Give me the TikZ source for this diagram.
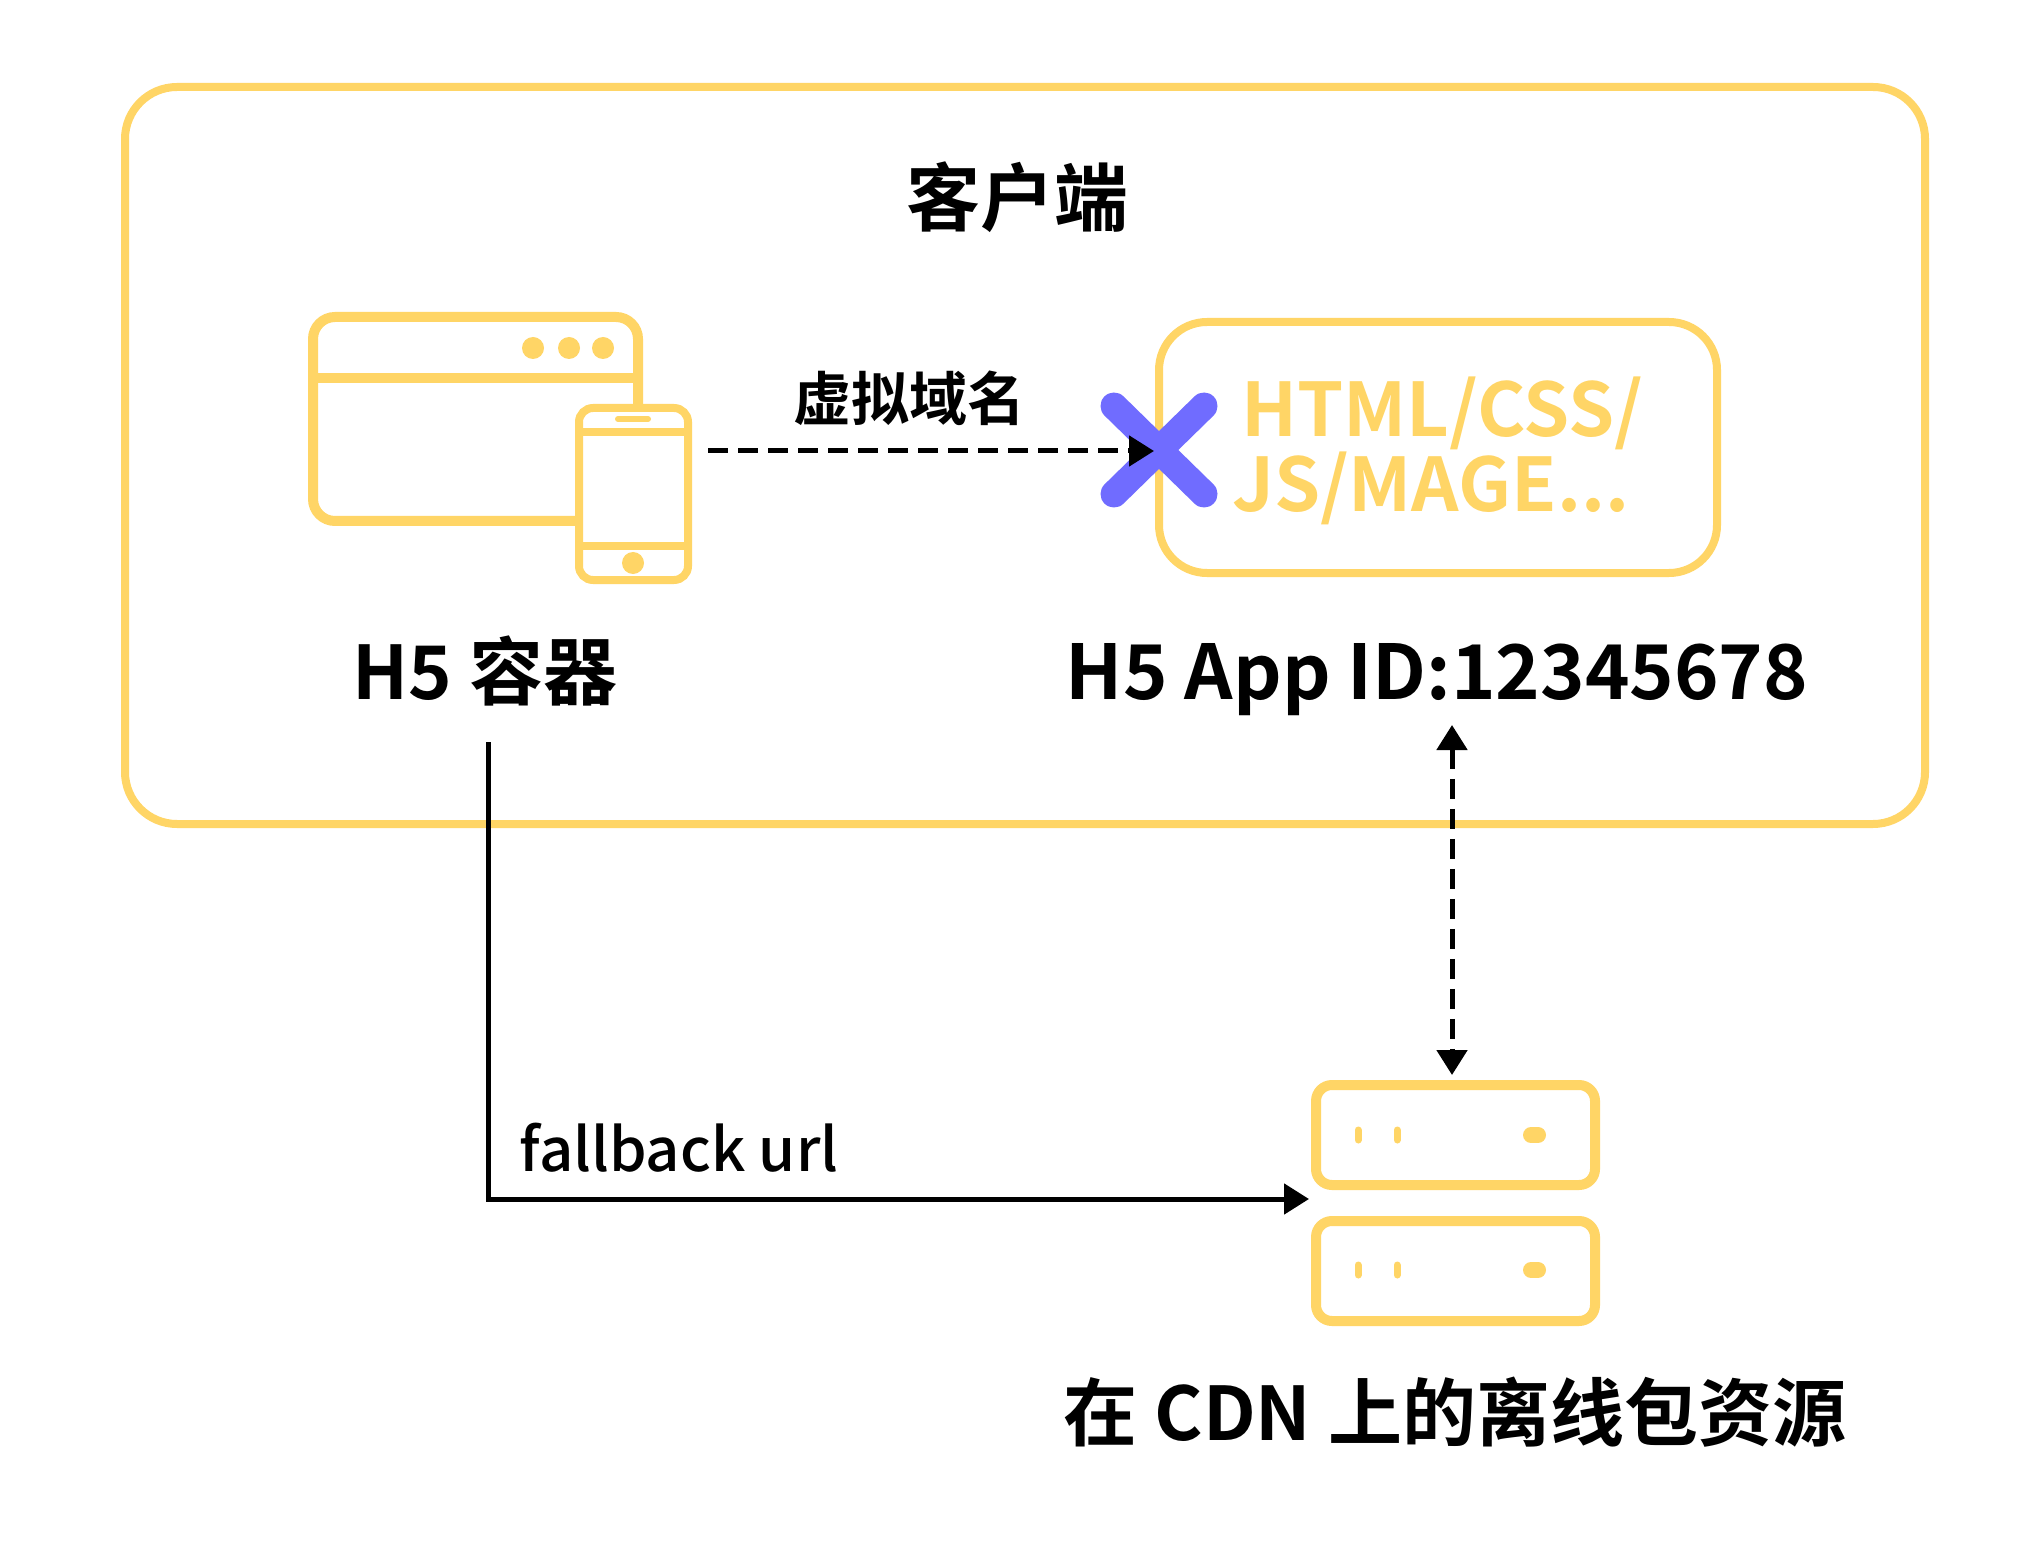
\documentclass[tikz,border=0pt]{standalone}
\usepackage{fontspec}
\setmainfont{Noto Sans CJK SC Medium}[BoldFont=Noto Sans CJK SC Bold]
\usetikzlibrary{arrows.meta}
\definecolor{boxyellow}{HTML}{FFD566}
\definecolor{crossblue}{HTML}{706CFF}
\begin{document}
\begin{tikzpicture}[x=0.5pt,y=-0.5pt]
\tikzstyle{every node}=[inner sep=0pt,outer sep=0pt,text=black,font=\bfseries];
\tikzstyle{yline}=[draw=boxyellow,line width=5pt];
\tikzstyle{yfine}=[draw=boxyellow,line width=4pt];
\tikzstyle{ydot}=[fill=boxyellow];
\tikzstyle{led}=[draw=boxyellow,line width=3.5pt,line cap=round];
\tikzstyle{pill}=[draw=boxyellow,line width=8pt,line cap=round];
\tikzstyle{conn}=[black,line width=2.5pt,-{Triangle[length=12.5pt,width=15pt]}];
\tikzstyle{dashline}=[dash pattern=on 10pt off 5pt];
\useasboundingbox (0,0) rectangle (2037,1550);
\fill[white] (0,0) rectangle (2037,1550);
% client frame
\draw[draw=boxyellow,line width=4pt,rounded corners=26pt] (125,87) rectangle (1925,824);
\node (client) at (1017,197) {\fontsize{37}{40}\selectfont 客户端};
% window
\draw[yline,rounded corners=11pt] (313,317) rectangle (638,521);
\draw[yline] (313,378) -- (638,378);
\fill[ydot] (533,348) circle (5.5pt) (569,348) circle (5.5pt) (603,348) circle (5.5pt);
% phone
\draw[yfine,fill=white,rounded corners=7pt] (579,408) rectangle (688,580);
\draw[yfine] (579,432) -- (688,432) (579,546) -- (688,546);
\draw[draw=boxyellow,line width=3pt,line cap=round] (618,419) -- (648,419);
\fill[ydot] (633,563) circle (5.5pt);
\node[anchor=base] (h5) at (485,699) {\fontsize{37}{40}\selectfont H5 容器};
% app box
\draw[draw=boxyellow,line width=4pt,rounded corners=24pt] (1159,322) rectangle (1717,573);
\node[text=boxyellow,anchor=base west] (html) at (1241,437) {\fontsize{37}{40}\selectfont HTML/CSS/};
\node[text=boxyellow,anchor=base west] (js) at (1232,512) {\fontsize{37}{40}\selectfont JS/MAGE...};
\node[anchor=base] (appid) at (1437,699) {\fontsize{37.8}{40}\selectfont H5 App ID:12345678};
% cross
\draw[crossblue,line width=13.5pt,line cap=round] (1114,406) -- (1204,494) (1204,406) -- (1114,494);
\coordinate (cross) at (1154,451);
\coordinate (phoneout) at (708,451);
\node (domain) at (909,398) {\fontsize{29}{32}\selectfont 虚拟域名};
% servers
\draw[yline,rounded corners=8pt] (1316,1085) rectangle (1595,1185);
\draw[yline,rounded corners=8pt] (1316,1221) rectangle (1595,1321);
\foreach \y in {1135,1270} {
\draw[led] (1358,\y-5) -- (1358,\y+5);
\draw[led] (1397,\y-5) -- (1397,\y+5);
\draw[pill] (1531,\y) -- (1538,\y);
}
\node[anchor=base] (cdn) at (1455,1440) {\fontsize{37}{40}\selectfont 在 CDN 上的离线包资源};
\node[anchor=base,font=\mdseries] (fallback) at (679,1171) {\fontsize{29.9}{32}\selectfont fallback url};
\coordinate (idout) at (1452,725);
\coordinate (serverin) at (1452,1075);
\coordinate (h5out) at (488,742);
\coordinate (turn) at (488,1199);
\coordinate (serverside) at (1309,1199);
\draw[conn,dashline] (phoneout) -- (cross);
\draw[conn,dashline,{Triangle[length=12.5pt,width=15pt]}-{Triangle[length=12.5pt,width=15pt]}] (idout) -- (serverin);
\draw[conn] (h5out) -- (turn) -- (serverside);
\end{tikzpicture}
\end{document}
